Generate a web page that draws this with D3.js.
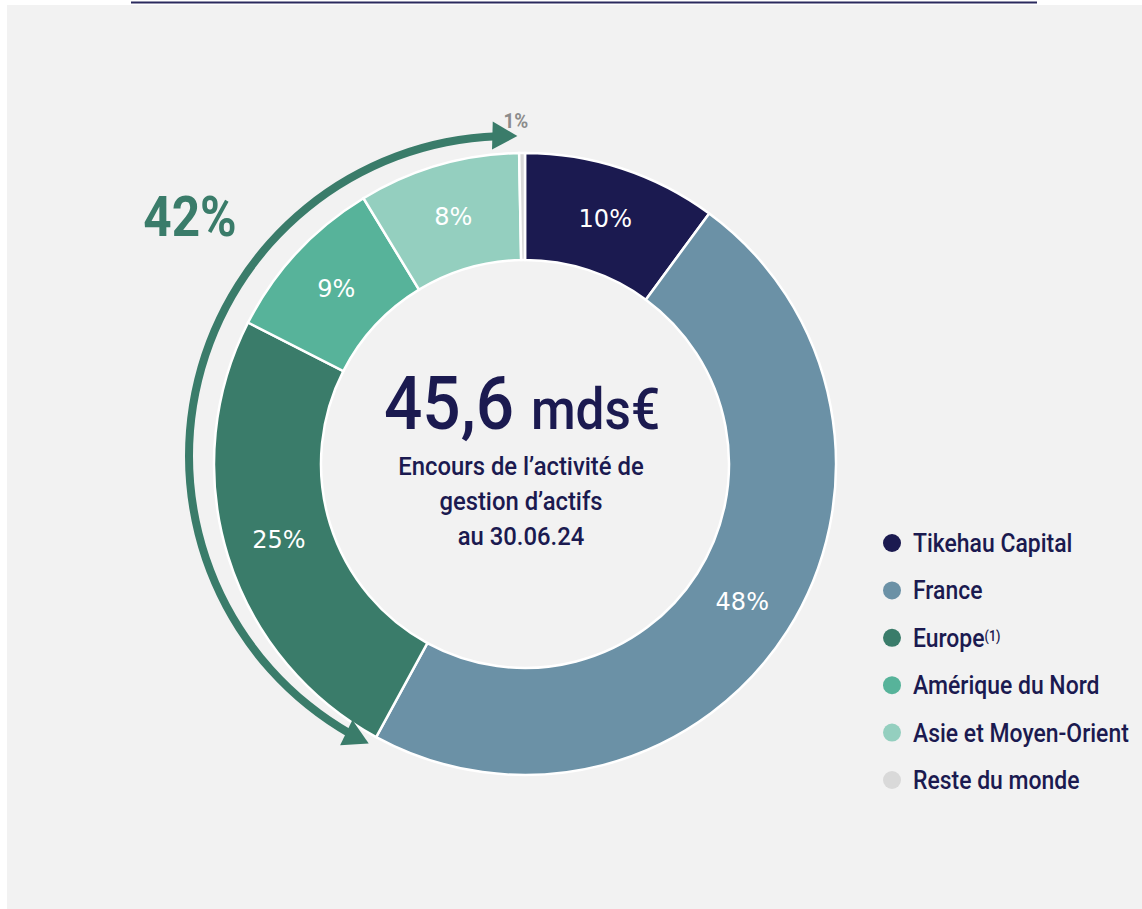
<!DOCTYPE html>
<html>
<head>
<meta charset="utf-8">
<script src="https://cdn.jsdelivr.net/npm/d3@7"></script>
<style>
  body { margin: 0; background: #ffffff; }
  svg { display: block; }
</style>
</head>
<body>
<div id="chart"></div>
<script>
// Données
const regions = ["Tikehau Capital", "France", "Europe", "Amérique du Nord", "Asie et Moyen-Orient", "Reste du monde"];
const shares = [10.1, 47.9, 24.6, 8.8, 8.4, 0.3];
const shareLabels = ["10%", "48%", "25%", "9%", "8%", "1%"];
const colors = ["#1b1a50", "#6b91a6", "#3a7c6a", "#57b39a", "#94cfbf", "#d9d9d9"];
const totalValue = "45,6";
const totalUnit = "mds€";
const subtitleLines = ["Encours de l’activité de", "gestion d’actifs", "au 30.06.24"];
const bracketLabel = "42%";

const width = 1142;
const height = 909;
const cx = 525, cy = 464;
const outerR = 311, innerR = 204;
// police étroite simulée : Roboto compressée horizontalement
const condFont = "Roboto, 'DejaVu Sans Condensed', sans-serif";
const squeeze = 0.9;
const navy = "#1b1a50";
const green = "#3a7c6a";

const svg = d3.select("#chart").append("svg")
  .attr("width", width)
  .attr("height", height);

// Fond
svg.append("rect")
  .attr("x", 7).attr("y", 5)
  .attr("width", width - 7).attr("height", height - 5)
  .attr("fill", "#f2f2f2");

svg.append("line")
  .attr("x1", 131).attr("x2", 1037)
  .attr("y1", 2.5).attr("y2", 2.5)
  .attr("stroke", "#2b2a5e")
  .attr("stroke-width", 2);

function condText(parent, x, y) {
  return parent.append("text")
    .attr("transform", `translate(${x},${y}) scale(${squeeze},1)`)
    .style("font-family", condFont);
}

const data = regions.map((r, i) => ({ region: r, value: shares[i], label: shareLabels[i], color: colors[i] }));

const pie = d3.pie().value(d => d.value).sort(null);
const arcs = pie(data);

const arc = d3.arc().innerRadius(innerR).outerRadius(outerR);

const g = svg.append("g").attr("transform", `translate(${cx},${cy})`);

g.selectAll("path.slice")
  .data(arcs)
  .enter()
  .append("path")
  .attr("class", "slice")
  .attr("d", arc)
  .attr("fill", d => d.data.color)
  .attr("stroke", "#ffffff")
  .attr("stroke-width", 2.5);

// Pourcentages dans les segments
g.selectAll("text.pct")
  .data(arcs.filter(d => d.data.value > 2))
  .enter()
  .append("text")
  .attr("class", "pct")
  .attr("transform", d => `translate(${arc.centroid(d)})`)
  .attr("text-anchor", "middle")
  .attr("dominant-baseline", "central")
  .style("font-family", "'DejaVu Sans', sans-serif")
  .style("font-size", "24px")
  .style("fill", "#ffffff")
  .text(d => d.data.label);

// Petit segment : étiquette à l'extérieur
const small = arcs[arcs.length - 1];
const midA = (small.startAngle + small.endAngle) / 2;
condText(g, Math.sin(midA) * (outerR + 30) - 6, -Math.cos(midA) * (outerR + 30) + 5)
  .attr("text-anchor", "middle")
  .style("font-weight", "bold")
  .style("font-size", "21px")
  .style("fill", "#8c8c8c")
  .text(small.data.label);

// Flèche 42 % (Europe -> Asie)
const arrowG = svg.append("g").attr("transform", `translate(${cx - 16},${cy - 8})`);
const arrowR = 320;
const a0 = 206 * Math.PI / 180;
const a1 = 361.5 * Math.PI / 180;
const headLen = 25, headHalf = 14;
arrowG.append("path")
  .attr("d", d3.arc()
    .innerRadius(arrowR - 4)
    .outerRadius(arrowR + 4)
    .startAngle(a0 + headLen / arrowR * 0.8)
    .endAngle(a1 - headLen / arrowR * 0.8)())
  .attr("fill", green);

[[a1, -1], [a0, 1]].forEach(([a, dir]) => {
  arrowG.append("path")
    .attr("transform", `rotate(${a * 180 / Math.PI})`)
    .attr("d", `M0,${-arrowR} L${dir * headLen},${-arrowR - headHalf} L${dir * headLen},${-arrowR + headHalf} Z`)
    .attr("fill", green);
});

condText(svg, 190, 236)
  .attr("text-anchor", "middle")
  .style("font-weight", "bold")
  .style("font-size", "55px")
  .style("fill", green)
  .text(bracketLabel);

// Texte central
const center = condText(svg, cx - 3, 429)
  .attr("text-anchor", "middle")
  .style("font-weight", 500)
  .style("fill", navy);
center.append("tspan").style("font-size", "75px").text(totalValue + " ");
center.append("tspan").style("font-size", "57px").text(totalUnit);

subtitleLines.forEach((line, i) => {
  condText(svg, cx - 4, 475 + i * 35)
    .attr("text-anchor", "middle")
    .style("font-weight", 500)
    .style("font-size", "26.5px")
    .style("fill", navy)
    .text(line);
});

// Légende
const legend = svg.append("g").attr("transform", "translate(892,543)");
const rows = legend.selectAll("g.row")
  .data(data)
  .enter()
  .append("g")
  .attr("class", "row")
  .attr("transform", (d, i) => `translate(0,${i * 47.4})`);

rows.append("circle")
  .attr("r", 9)
  .attr("fill", d => d.color);

rows.each(function (d) {
  const t = condText(d3.select(this), 21, 9)
    .style("font-weight", 500)
    .style("font-size", "25.5px")
    .style("fill", navy);
  t.append("tspan").text(d.region);
  if (d.region === "Europe") {
    t.append("tspan")
      .attr("dy", "-0.45em")
      .style("font-size", "14px")
      .text("(1)");
  }
});
</script>
</body>
</html>
